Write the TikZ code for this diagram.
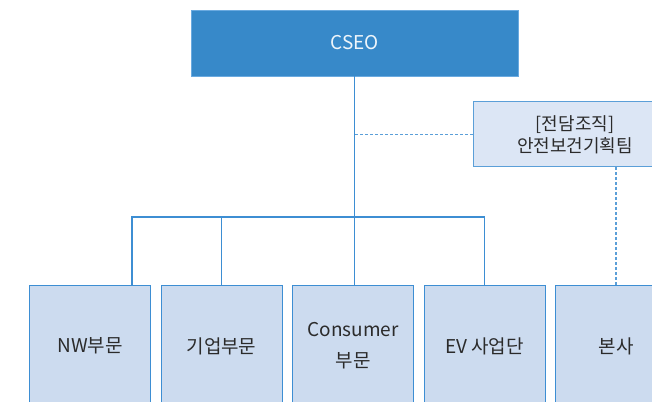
\documentclass[tikz,border=0pt]{standalone}
\usepackage{fontspec}
\setmainfont{Noto Sans CJK KR}
\usepackage{xcolor}
\usepackage{tikz}
\usetikzlibrary{positioning}
\definecolor{ceoblue}{HTML}{3789C9}
\definecolor{ceoedge}{HTML}{6AAAE0}
\definecolor{linblue}{HTML}{3D8ED3}
\definecolor{unitbg}{HTML}{CCDBEF}
\definecolor{teambg}{HTML}{DCE6F5}
\definecolor{dashblue}{HTML}{5B9FD8}
\definecolor{txtgray}{HTML}{2B2B2B}

\begin{document}
\begin{tikzpicture}[x=1pt, y=1pt,
      cseobox/.style={draw=ceoedge, fill=ceoblue, minimum width=327pt,
                  minimum height=66pt, text=white!92!ceoblue,
                  font=\fontsize{19}{23}\selectfont},
      unitbox/.style={draw=linblue, line width=1pt, fill=unitbg,
                  minimum width=121pt, minimum height=120pt, text=txtgray,
                  align=center, font=\fontsize{19}{31}\selectfont},
      teambox/.style={draw=dashblue, line width=1pt, fill=teambg,
                  minimum width=204pt, minimum height=65pt, text=txtgray,
                  align=center, font=\fontsize{18}{22}\selectfont},
      conn/.style={draw=linblue, line width=1.1pt},
      dconn/.style={draw=dashblue, line width=1.6pt, dash pattern=on 3pt off 2pt}
  ]
    \clip (0,0) rectangle (652,401);
    \node[cseobox] (cseo) at (354.5,358) {CSEO};
    \node[teambox] (team) at (575,266.5) {[전담조직]\\안전보건기획팀};
    \node[unitbox] (nw) at (90,55) {NW부문};
    \node[unitbox, right=9.5pt of nw]   (corp) {기업부문};
    \node[unitbox, right=9.5pt of corp] (cons) {Consumer\\부문};
    \node[unitbox, right=9.5pt of cons] (ev)   {EV 사업단};
    \node[unitbox, right=9.5pt of ev]   (hq)   {본사};
    \coordinate (busL) at (132,184);
    \draw[conn] (cseo.south) -- (cseo.south |- cons.north);
    \draw[conn] (nw.north -| busL) |- (ev.north |- busL) -- (ev.north);
    \draw[conn] (corp.north) -- (corp.north |- busL);
    \draw[dconn] (team.west) -- (team.west -| cseo.south);
    \draw[dconn] (hq.north |- team.south) -- (hq.north);
  \end{tikzpicture}
\end{document}
